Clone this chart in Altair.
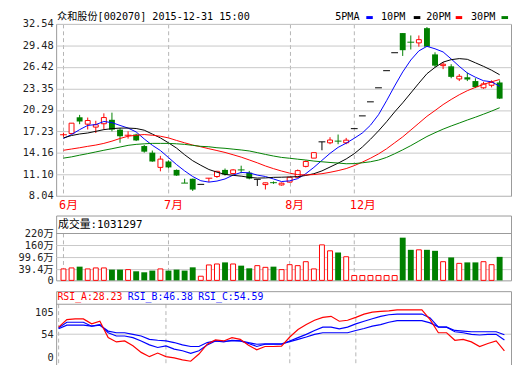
import altair as alt
import pandas as pd

# ---------------- values ----------------
title_text = "众和股份[002070] 2015-12-31 15:00"
ma_names = ["5PMA", "10PM", "20PM", "30PM"]
month_idx = [0, 13, 28, 36]
month_lbl = ["6月", "7月", "8月", "12月"]
price_ticks = [8.04, 11.10, 14.16, 17.23, 20.29, 23.35, 26.42, 29.48, 32.54]
vol_ticks = [0, 39.4, 99.6, 160, 220]
vol_grid = [39.4, 99.6, 160]
rsi_ticks = [0, 54, 105]
rsi_grid = [54]
vol_title = "成交量:1031297"
rsi_titles = ["RSI_A:28.23", "RSI_B:46.38", "RSI_C:54.59"]

opens = [16.75, 16.92, 19.24, 18.26, 17.84, 18.32, 18.88, 17.48, 16.68, 16.78,
         15.14, 14.20, 12.10, 12.94, 11.74, 9.86, 10.48, 9.68, 10.56, 10.80,
         11.74, 11.22, 11.74, 11.35, 10.40, 9.65, 9.92, 9.60, 10.00, 10.70,
         12.24, 13.42, 15.74, 15.60, 15.84, 15.60, 17.62, 19.44, 21.44, 23.44,
         25.88, 28.44, 31.24, 29.94, 29.84, 31.94, 28.20, 26.60, 26.50, 24.70,
         24.94, 24.40, 23.44, 23.80, 24.20]
highs = [17.05, 18.40, 19.58, 19.20, 18.74, 19.80, 19.90, 17.70, 17.24, 16.90,
         15.30, 14.50, 13.74, 13.10, 11.80, 10.48, 10.50, 9.68, 10.56, 11.60,
         11.94, 11.84, 12.34, 11.60, 10.40, 9.92, 10.10, 9.95, 10.75, 11.80,
         13.10, 14.20, 15.74, 16.40, 16.78, 16.30, 17.62, 19.44, 21.44, 23.44,
         25.88, 28.44, 31.24, 30.90, 30.90, 32.10, 28.50, 27.10, 26.80, 25.40,
         25.60, 24.80, 24.30, 24.50, 24.50]
lows = [16.45, 16.90, 18.26, 17.50, 17.00, 17.50, 17.24, 15.60, 16.20, 15.85,
        14.20, 12.90, 11.54, 11.95, 10.90, 9.86, 8.74, 9.68, 10.00, 10.60,
        10.94, 11.08, 11.26, 10.40, 9.45, 8.95, 9.75, 9.50, 9.95, 10.60,
        12.10, 13.42, 14.54, 15.40, 15.40, 15.40, 17.62, 19.44, 21.44, 23.44,
        25.88, 28.44, 27.98, 28.90, 29.30, 29.24, 26.35, 26.10, 24.80, 24.40,
        24.40, 23.40, 23.30, 23.50, 21.85]
closes = [16.75, 18.40, 18.64, 18.78, 18.18, 19.20, 17.48, 16.54, 16.68, 15.94,
          14.34, 12.94, 13.28, 12.10, 10.94, 9.86, 8.94, 9.68, 10.56, 11.54,
          11.08, 11.74, 11.74, 10.50, 10.40, 9.90, 9.92, 9.85, 10.70, 11.64,
          12.94, 14.20, 15.74, 16.00, 15.84, 15.98, 17.62, 19.44, 21.44, 23.44,
          25.88, 28.44, 28.80, 29.94, 30.30, 29.30, 26.60, 26.80, 25.00, 25.08,
          24.62, 23.54, 24.00, 24.20, 21.90]
kinds = ["r", "r", "g", "r", "r", "r", "g", "g", "r", "g",
         "g", "g", "r", "g", "g", "g", "g", "k", "r", "r",
         "g", "r", "g", "g", "k", "r", "g", "r", "r", "r",
         "r", "r", "k", "r", "g", "r", "k", "k", "k", "k",
         "k", "k", "g", "g", "r", "g", "g", "r", "g", "r",
         "g", "g", "r", "r", "g"]

ma5 = [16.22, 16.78, 17.48, 18.08, 18.2, 18.64, 18.48, 18.08, 17.7, 17.15,
       16.15, 15.25, 14.5, 13.5, 12.5, 11.6, 10.8, 10.2, 10.0, 10.15,
       10.45, 11.0, 11.38, 11.32, 11.0, 10.8, 10.45, 10.08, 10.18, 10.5,
       11.2, 12.1, 13.1, 14.1, 14.95, 15.55, 16.25, 17.0, 18.1, 19.6,
       21.6, 23.7, 25.7, 27.4, 28.7, 29.35, 29.0, 28.55, 27.55, 26.5,
       25.55, 24.95, 24.45, 24.3, 23.65]
ma10 = [16.3, 16.64, 16.86, 17.0, 17.24, 17.48, 17.62, 17.7, 17.7, 17.64,
        17.4, 16.85, 16.3, 15.6, 14.85, 13.9, 13.05, 12.4, 11.8, 11.42,
        11.1, 10.97, 10.85, 10.68, 10.58, 10.6, 10.68, 10.7, 10.74, 10.78,
        10.95, 11.2, 11.6, 12.15, 12.7, 13.3, 14.05, 15.0, 16.1, 17.3,
        18.6, 20.0, 21.3, 22.7, 24.1, 25.45, 26.35, 27.1, 27.45, 27.6,
        27.5, 27.0, 26.5, 25.95, 25.3]
ma20 = [14.54, 14.72, 14.9, 15.1, 15.28, 15.52, 15.84, 16.22, 16.54, 16.68,
        16.78, 16.68, 16.54, 16.3, 15.94, 15.6, 15.28, 15.04, 14.76, 14.5,
        14.23, 13.9, 13.56, 13.16, 12.75, 12.3, 11.92, 11.58, 11.28, 11.07,
        11.02, 11.08, 11.2, 11.4, 11.64, 11.93, 12.35, 12.85, 13.4, 14.02,
        14.75, 15.6, 16.45, 17.42, 18.4, 19.38, 20.2, 21.05, 21.78, 22.45,
        23.03, 23.5, 23.92, 24.3, 24.62]
ma30 = [13.42, 13.6, 13.84, 14.06, 14.3, 14.54, 14.76, 15.0, 15.24, 15.38,
        15.46, 15.52, 15.52, 15.52, 15.46, 15.38, 15.24, 15.1, 15.04, 14.9,
        14.82, 14.7, 14.58, 14.44, 14.2, 13.95, 13.72, 13.52, 13.4, 13.27,
        13.15, 13.0, 12.9, 12.8, 12.72, 12.62, 12.64, 12.75, 12.9, 13.14,
        13.52, 14.04, 14.6, 15.2, 15.85, 16.5, 17.04, 17.55, 18.0, 18.42,
        18.85, 19.25, 19.68, 20.12, 20.6]

vol = [42.9, 47.8, 54.2, 42.9, 47.8, 47.8, 39.4, 39.4, 39.4, 31.0,
       26.0, 34.4, 42.9, 34.4, 39.4, 34.4, 50.8, 6.3, 62.7, 67.6,
       75.5, 67.6, 59.2, 45.8, 59.2, 50.8, 54.2, 39.4, 64.1, 59.2,
       79.0, 42.9, 163.1, 133.4, 125.0, 103.7, 9.7, 9.7, 9.7, 9.7,
       9.7, 9.7, 199.2, 138.4, 138.4, 138.4, 133.4, 79.0, 100.3, 70.6,
       75.5, 75.5, 79.0, 64.1, 103.13]

rsi_a = [70.5, 88, 89.7, 89.7, 78.2, 84.3, 46, 36, 38.3, 26.8,
         11.5, 1.5, 9.9, 1.5, -1.5, -6, -9.2, 7.6, 30.6, 40.6,
         38.3, 46, 42, 28.3, 17.6, 25.3, 25.3, 26,
         47.5, 65, 76.6, 86.6, 93.5, 95.8, 84.3, 86.6, 93.5, 101.1,
         105.7, 107.3, 108.7, 111, 111, 111, 111, 88, 57.5, 57.5,
         39.8, 42, 36, 25.3, 32.2, 38.3, 15.3]
rsi_b = [69, 82, 82, 82, 72.8, 76.6, 57.5, 49.8, 49.8, 46,
         38.3, 29, 23, 26.8, 19.2, 15.3, 9.2, 15.3, 29, 38.3,
         36, 39.8, 38.3, 32.2, 25.3, 30.6, 30.6, 30.6,
         38.3, 46, 53.6, 62.8, 70.5, 70.5, 66.7, 70.5, 78.2, 84.3,
         90.3, 95.8, 99.6, 101.1, 101.1, 101.1, 101.1, 92, 70.5, 70.5,
         59.8, 57.5, 53.6, 52.1, 53.6, 53.6, 40.6]
rsi_c = [66.7, 75.2, 75.2, 75.2, 72.8, 75.2, 61.3, 57.5, 57.5, 53.6,
         49.8, 42, 39.8, 38.3, 34.5, 29, 25.3, 25.3, 34.5, 38.3,
         37.5, 38.3, 38.3, 34.5, 30.6, 31.5, 31.5, 31.5,
         36.8, 42, 47.5, 53.6, 57.5, 57.5, 57.5, 57.5, 62.8, 67.4,
         72.8, 76.6, 82, 85.8, 86, 86, 85.8, 80.5, 71.3, 70.5,
         62.8, 61.3, 59.8, 59.8, 59.8, 59.8, 52.6]

# ---------------- styles ----------------
RED, GREEN, BLUE, BLACK = "#ff0000", "#008000", "#0000ff", "#000000"
ma_colors = [BLUE, BLACK, RED, GREEN]
FONT = "DejaVu Sans Mono, Noto Sans CJK SC"
GRID = "#c8c8c8"
FRAME = "#999999"
DASHC = "#b4b4b4"
W, H1, H2, H3 = 463, 175, 66, 76
n = len(closes)
idx = list(range(n))

xscale = alt.Scale(domain=[-0.3, 54.8], nice=False, zero=False)
kind_scale = alt.Scale(domain=["r", "g", "k"], range=[RED, GREEN, BLACK])

# ---------------- price panel ----------------
cdf = pd.DataFrame(dict(idx=idx, o=opens, h=highs, l=lows, c=closes, k=kinds))

lbl_expr = ("[" + ",".join("'%s'" % m for m in month_lbl) + "][indexof(["
            + ",".join(str(i) for i in month_idx) + "], datum.value)]")
xaxis1 = alt.Axis(values=month_idx, labelExpr=lbl_expr, grid=True, gridDash=[4, 3],
                  gridColor=DASHC, ticks=False, domain=False, labelColor=RED,
                  labelFont=FONT, labelFontSize=12, labelAlign="left", labelOffset=-5,
                  labelPadding=4, labelBaseline="top", labelFlush=False,
                  labelOverlap=False, title=None)
yscale1 = alt.Scale(domain=[8.04, 32.54], nice=False, zero=False)
yaxis1 = alt.Axis(values=price_ticks, format=".2f", grid=True, gridColor=GRID,
                  ticks=False, domain=False, labelFont=FONT, labelFontSize=10.5,
                  labelColor="#222222", labelPadding=3, minExtent=48, maxExtent=48,
                  labelOverlap=False, title=None)
X1 = alt.X("idx:Q", scale=xscale, axis=xaxis1)

base1 = alt.Chart(cdf)
wick = base1.mark_rule(strokeWidth=1).encode(
    x=X1, y=alt.Y("l:Q", scale=yscale1, axis=yaxis1), y2="h:Q",
    color=alt.Color("k:N", scale=kind_scale, legend=None))
red_body = base1.transform_filter("datum.k == 'r' && datum.o != datum.c").mark_bar(
    size=5, fill="white", stroke=RED, strokeWidth=1).encode(
    x=X1, y=alt.Y("o:Q", scale=yscale1, axis=yaxis1), y2="c:Q")
green_body = base1.transform_filter("datum.k == 'g' && datum.o != datum.c").mark_bar(
    size=6, color=GREEN).encode(
    x=X1, y=alt.Y("o:Q", scale=yscale1, axis=yaxis1), y2="c:Q")
flat = base1.transform_filter("datum.o == datum.c").transform_calculate(
    xl="datum.idx - 0.42", xr="datum.idx + 0.42").mark_rule(strokeWidth=1).encode(
    x=alt.X("xl:Q", scale=xscale, axis=xaxis1), x2="xr:Q",
    y=alt.Y("c:Q", scale=yscale1, axis=yaxis1),
    color=alt.Color("k:N", scale=kind_scale, legend=None))

madf = pd.DataFrame({
    "idx": idx * 4,
    "v": ma5 + ma10 + ma20 + ma30,
    "s": sum([[nm] * n for nm in ma_names], []),
})
ma = alt.Chart(madf).mark_line(strokeWidth=1).encode(
    x=X1, y=alt.Y("v:Q", scale=yscale1, axis=yaxis1),
    color=alt.Color("s:N", scale=alt.Scale(domain=ma_names, range=ma_colors), legend=None))

ttl = alt.Chart(pd.DataFrame({"t": [title_text]})).mark_text(
    align="left", baseline="middle", font=FONT, fontSize=10.3, color=BLACK).encode(
    x=alt.value(1), y=alt.value(-7), text="t:N")

legend_layers = []
text_x = [284, 330.7, 376.7, 422.3]
dash_x = [(315.7, 322.3), (364, 370.7), (406.7, 413.3), (453.3, 460)]
for i, (nm, col) in enumerate(zip(ma_names, ma_colors)):
    d = pd.DataFrame({"t": [nm]})
    legend_layers.append(alt.Chart(d).mark_text(
        align="left", baseline="middle", font=FONT, fontSize=10.3, color=BLACK).encode(
        x=alt.value(text_x[i]), y=alt.value(-7), text="t:N"))
    legend_layers.append(alt.Chart(d).mark_rule(color=col, strokeWidth=3).encode(
        x=alt.value(dash_x[i][0]), x2=alt.value(dash_x[i][1]), y=alt.value(-6.5)))

p1 = alt.layer(wick, red_body, green_body, flat, ma, ttl, *legend_layers).properties(
    width=W, height=H1).resolve_scale(color="independent")

# ---------------- volume panel ----------------
vmin, vmax = -14.4, 309.9
yscale2 = alt.Scale(domain=[vmin, vmax], nice=False, zero=False)
yaxis2 = alt.Axis(values=vol_ticks, labelExpr="datum.value == 0 ? '0' : datum.value + '万'",
                  labelOffset=alt.condition("datum.value == 0", alt.value(3), alt.value(0)),
                  grid=False, ticks=False, domain=False, labelFont=FONT, labelFontSize=10.5,
                  labelColor="#222222", labelPadding=3, minExtent=48, maxExtent=48,
                  labelOverlap=False, title=None)
X2 = alt.X("idx:Q", scale=xscale, axis=None)
vk = ["g" if k == "g" else "r" for k in kinds]
vdf = pd.DataFrame({"idx": idx, "v": vol, "k": vk})

grid2 = alt.Chart(pd.DataFrame({"g": vol_grid})).mark_rule(color=GRID).encode(
    y=alt.Y("g:Q", scale=yscale2, axis=yaxis2))
sep2 = alt.Chart(pd.DataFrame({"g": [vol_ticks[-1]]})).mark_rule(color=FRAME).encode(
    y=alt.Y("g:Q", scale=yscale2, axis=yaxis2))
mon2 = alt.Chart(pd.DataFrame({"idx": month_idx})).transform_calculate(
    top=str(vol_ticks[-1]), bot=str(vmin)).mark_rule(
    color=DASHC, strokeDash=[4, 3]).encode(
    x=X2, y=alt.Y("top:Q", scale=yscale2, axis=yaxis2), y2="bot:Q")
vred = alt.Chart(vdf).transform_filter("datum.k == 'r'").transform_calculate(
    bot=str(vmin)).mark_bar(
    size=5, fill="white", stroke=RED, strokeWidth=1).encode(
    x=X2, y=alt.Y("v:Q", scale=yscale2, axis=yaxis2), y2="bot:Q")
vgreen = alt.Chart(vdf).transform_filter("datum.k == 'g'").transform_calculate(
    bot=str(vmin)).mark_bar(
    size=6, color=GREEN).encode(
    x=X2, y=alt.Y("v:Q", scale=yscale2, axis=yaxis2), y2="bot:Q")
vttl = alt.Chart(pd.DataFrame({"t": [vol_title]})).mark_text(
    align="left", baseline="middle", font=FONT, fontSize=11, color=BLACK).encode(
    x=alt.value(2), y=alt.value(10), text="t:N")
p2 = alt.layer(grid2, mon2, sep2, vred, vgreen, vttl).properties(width=W, height=H2)

# ---------------- RSI panel ----------------
rmin, rmax, rsep = -20.0, 154.7, 124.1
yscale3 = alt.Scale(domain=[rmin, rmax], nice=False, zero=False)
yaxis3 = alt.Axis(values=rsi_ticks, grid=False, ticks=False, domain=False, labelFont=FONT,
                  labelFontSize=10.5, labelColor="#222222", labelPadding=3,
                  minExtent=48, maxExtent=48, labelOverlap=False, title=None)
rdf = pd.DataFrame({
    "idx": idx * 3,
    "v": rsi_c + rsi_b + rsi_a,
    "s": ["C"] * n + ["B"] * n + ["A"] * n,
})
grid3 = alt.Chart(pd.DataFrame({"g": rsi_grid})).mark_rule(color=GRID).encode(
    y=alt.Y("g:Q", scale=yscale3, axis=yaxis3))
sep3 = alt.Chart(pd.DataFrame({"g": [rsep]})).mark_rule(color=FRAME).encode(
    y=alt.Y("g:Q", scale=yscale3, axis=yaxis3))
mon3 = alt.Chart(pd.DataFrame({"idx": month_idx})).transform_calculate(
    top=str(rsep), bot=str(rmin)).mark_rule(
    color=DASHC, strokeDash=[4, 3]).encode(
    x=X2, y=alt.Y("top:Q", scale=yscale3, axis=yaxis3), y2="bot:Q")
rlines = alt.Chart(rdf).mark_line(strokeWidth=1.2).encode(
    x=X2, y=alt.Y("v:Q", scale=yscale3, axis=yaxis3),
    color=alt.Color("s:N", scale=alt.Scale(domain=["A", "B", "C"], range=[RED, BLUE, BLUE]),
                    legend=None),
    order=alt.Order("idx:Q"))
rsi_x = [1.3, 73, 144.7]
rsi_cols = [RED, BLUE, BLUE]
rttl = []
for i, t in enumerate(rsi_titles):
    rttl.append(alt.Chart(pd.DataFrame({"t": [t]})).mark_text(
        align="left", baseline="middle", font=FONT, fontSize=10, color=rsi_cols[i]).encode(
        x=alt.value(rsi_x[i]), y=alt.value(5.6), text="t:N"))
p3 = alt.layer(grid3, mon3, sep3, rlines, *rttl).properties(width=W, height=H3)

chart = alt.vconcat(p1, p2, p3, spacing=3).properties(
    padding={"left": 0, "top": 0, "right": 0, "bottom": 0}
).configure_view(stroke=FRAME, strokeWidth=1)

chart.save("out.html", embed_options={"renderer": "svg", "actions": False})
